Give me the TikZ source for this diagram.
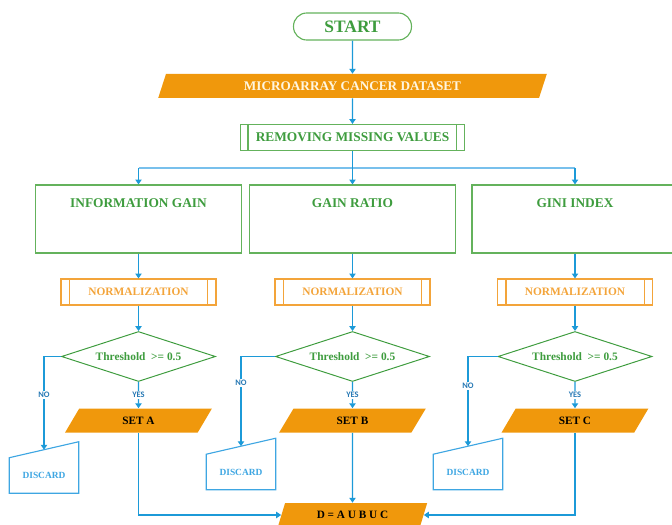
\documentclass[tikz,border=0pt]{standalone}
\usepackage{fontspec}
\setmainfont{Liberation Serif}
\newfontfamily\yesnofont{Carlito}
\usetikzlibrary{shapes.geometric,arrows.meta}
\def\u{0.025cm}
\definecolor{flowgreen}{RGB}{62,156,62}
\definecolor{boxgreen}{RGB}{100,178,92}
\definecolor{floworange}{RGB}{240,152,12}
\definecolor{normorange}{RGB}{243,164,58}
\definecolor{lineblue}{RGB}{28,154,216}
\definecolor{busblue}{RGB}{120,192,236}
\definecolor{discblue}{RGB}{62,166,226}
\definecolor{labelblue}{RGB}{38,120,180}
\definecolor{cream}{RGB}{255,246,224}

\begin{document}
\begin{tikzpicture}[x=\u,y=-\u,>={Triangle[width=4.5pt,length=3.5pt]}]
            \tikzstyle{arr}=[->,draw=lineblue,line width=0.9pt]
            \tikzstyle{bus}=[draw=busblue,line width=1pt]
            \tikzstyle{startbox}=[draw=boxgreen,line width=0.8pt,rounded corners=0.33cm,minimum width=118*\u,minimum height=27*\u,text=flowgreen,font=\fontsize{12.4}{14}\selectfont\bfseries]
            \tikzstyle{iobox}=[trapezium,trapezium left angle=63,trapezium right angle=117,trapezium stretches=true,fill=floworange,minimum height=24*\u,inner sep=0pt,font=\fontsize{8}{10}\selectfont\bfseries]
            \tikzstyle{procbox}=[draw=boxgreen,line width=0.8pt,minimum width=224*\u,minimum height=26*\u,inner sep=0pt,text=flowgreen,font=\fontsize{9.5}{11}\selectfont\bfseries]
            \tikzstyle{featbox}=[draw=boxgreen,line width=0.8pt,minimum width=206*\u,minimum height=68*\u]
            \tikzstyle{feattext}=[text=flowgreen,font=\fontsize{9.5}{11}\selectfont\bfseries]
            \tikzstyle{normbox}=[draw=normorange,line width=0.8pt,minimum width=155*\u,minimum height=26*\u,inner sep=0pt,text=normorange,font=\fontsize{8.1}{10}\selectfont\bfseries]
            \tikzstyle{decision}=[diamond,draw=flowgreen,line width=0.7pt,aspect=3,minimum width=154*\u,minimum height=50*\u,inner sep=0pt,text=flowgreen,font=\fontsize{8.1}{10}\selectfont\bfseries]
            \tikzstyle{dropbox}=[minimum width=69*\u,minimum height=35*\u,inner sep=0pt,text=discblue,font=\fontsize{6.7}{8}\selectfont\bfseries]
            \tikzstyle{yesno}=[fill=white,inner sep=0.8pt,text=labelblue,font=\yesnofont\fontsize{6}{7}\selectfont\bfseries]

            \useasboundingbox (0,0) rectangle (672,525);

            % Top of the chart
            \node[startbox] (START) at (352.5,26.5) {START};
            \node[iobox,minimum width=389*\u,text=cream,font=\fontsize{9.4}{11}\selectfont\bfseries] (DATA) at (352.5,86) {MICROARRAY CANCER DATASET};
            \node[procbox] (RMV) at (352.5,137.5) {REMOVING MISSING VALUES};
            \draw[boxgreen,line width=0.8pt] ([xshift=8*\u]RMV.north west) -- ([xshift=8*\u]RMV.south west);
            \draw[boxgreen,line width=0.8pt] ([xshift=-9*\u]RMV.north east) -- ([xshift=-9*\u]RMV.south east);

            \draw[arr] (START.south) -- (DATA.north);
            \draw[arr] (DATA.south) -- (RMV.north);

            % Draw the three columns
            \foreach \n / \x / \title / \set / \dx / \dy / \noy in {1/138.5/INFORMATION GAIN/A/44/475.5/395, 2/352.5/GAIN RATIO/B/241/472/383, 3/575/GINI INDEX/C/468/472/386}
            {
                \node[featbox] (F-\n) at (\x,219) {};
                \node[feattext] (FT-\n) at (\x,203) {\title};
                \node[normbox] (N-\n) at (\x,292) {NORMALIZATION};
                \draw[normorange,line width=0.8pt] ([xshift=9*\u]N-\n.north west) -- ([xshift=9*\u]N-\n.south west);
                \draw[normorange,line width=0.8pt] ([xshift=-9*\u]N-\n.north east) -- ([xshift=-9*\u]N-\n.south east);
                \node[decision] (T-\n) at (\x,356.5) {Threshold~~>= 0.5};
                \node[iobox,minimum width=147*\u] (S-\n) at (\x,420.5) {SET \set};
                \node[dropbox] (X-\n) at (\dx,\dy) {DISCARD};
                \draw[discblue,line width=0.8pt] (X-\n.south west) -- (X-\n.south east) -- ([yshift=16*\u]X-\n.north east) -- (X-\n.north west) -- cycle;
                \coordinate (XI-\n) at ([yshift=8*\u]X-\n.north);

                \draw[arr] (F-\n.south) -- (N-\n.north);
                \draw[arr] (N-\n.south) -- (T-\n.north);
                \draw[arr] (T-\n.west) -| (XI-\n);
                \node[yesno] (NO-\n) at (\dx,\noy) {NO};
                \draw[arr] (T-\n.south) -- (S-\n.north);
                \node[yesno] (YES-\n) at (\x,395) {YES};
            }

            % Split after removing missing values
            \coordinate (BUS-1) at (138.5,168);
            \coordinate (BUS-3) at (575,168);
            \draw[bus] (BUS-1) -- (BUS-3);
            \draw[arr] (BUS-1) -- (F-1.north);
            \draw[arr] (BUS-3) -- (F-3.north);
            \draw[arr] (RMV.south) -- (F-2.north);

            % Union of the three sets
            \node[iobox,minimum width=150*\u] (D) at (352.5,515) {D = A U B U C};
            \draw[arr] (S-1.south) |- (D.180);
            \draw[arr] (S-2.south) -- (D.north);
            \draw[arr] (S-3.south) |- (D.0);
\end{tikzpicture}
\end{document}
